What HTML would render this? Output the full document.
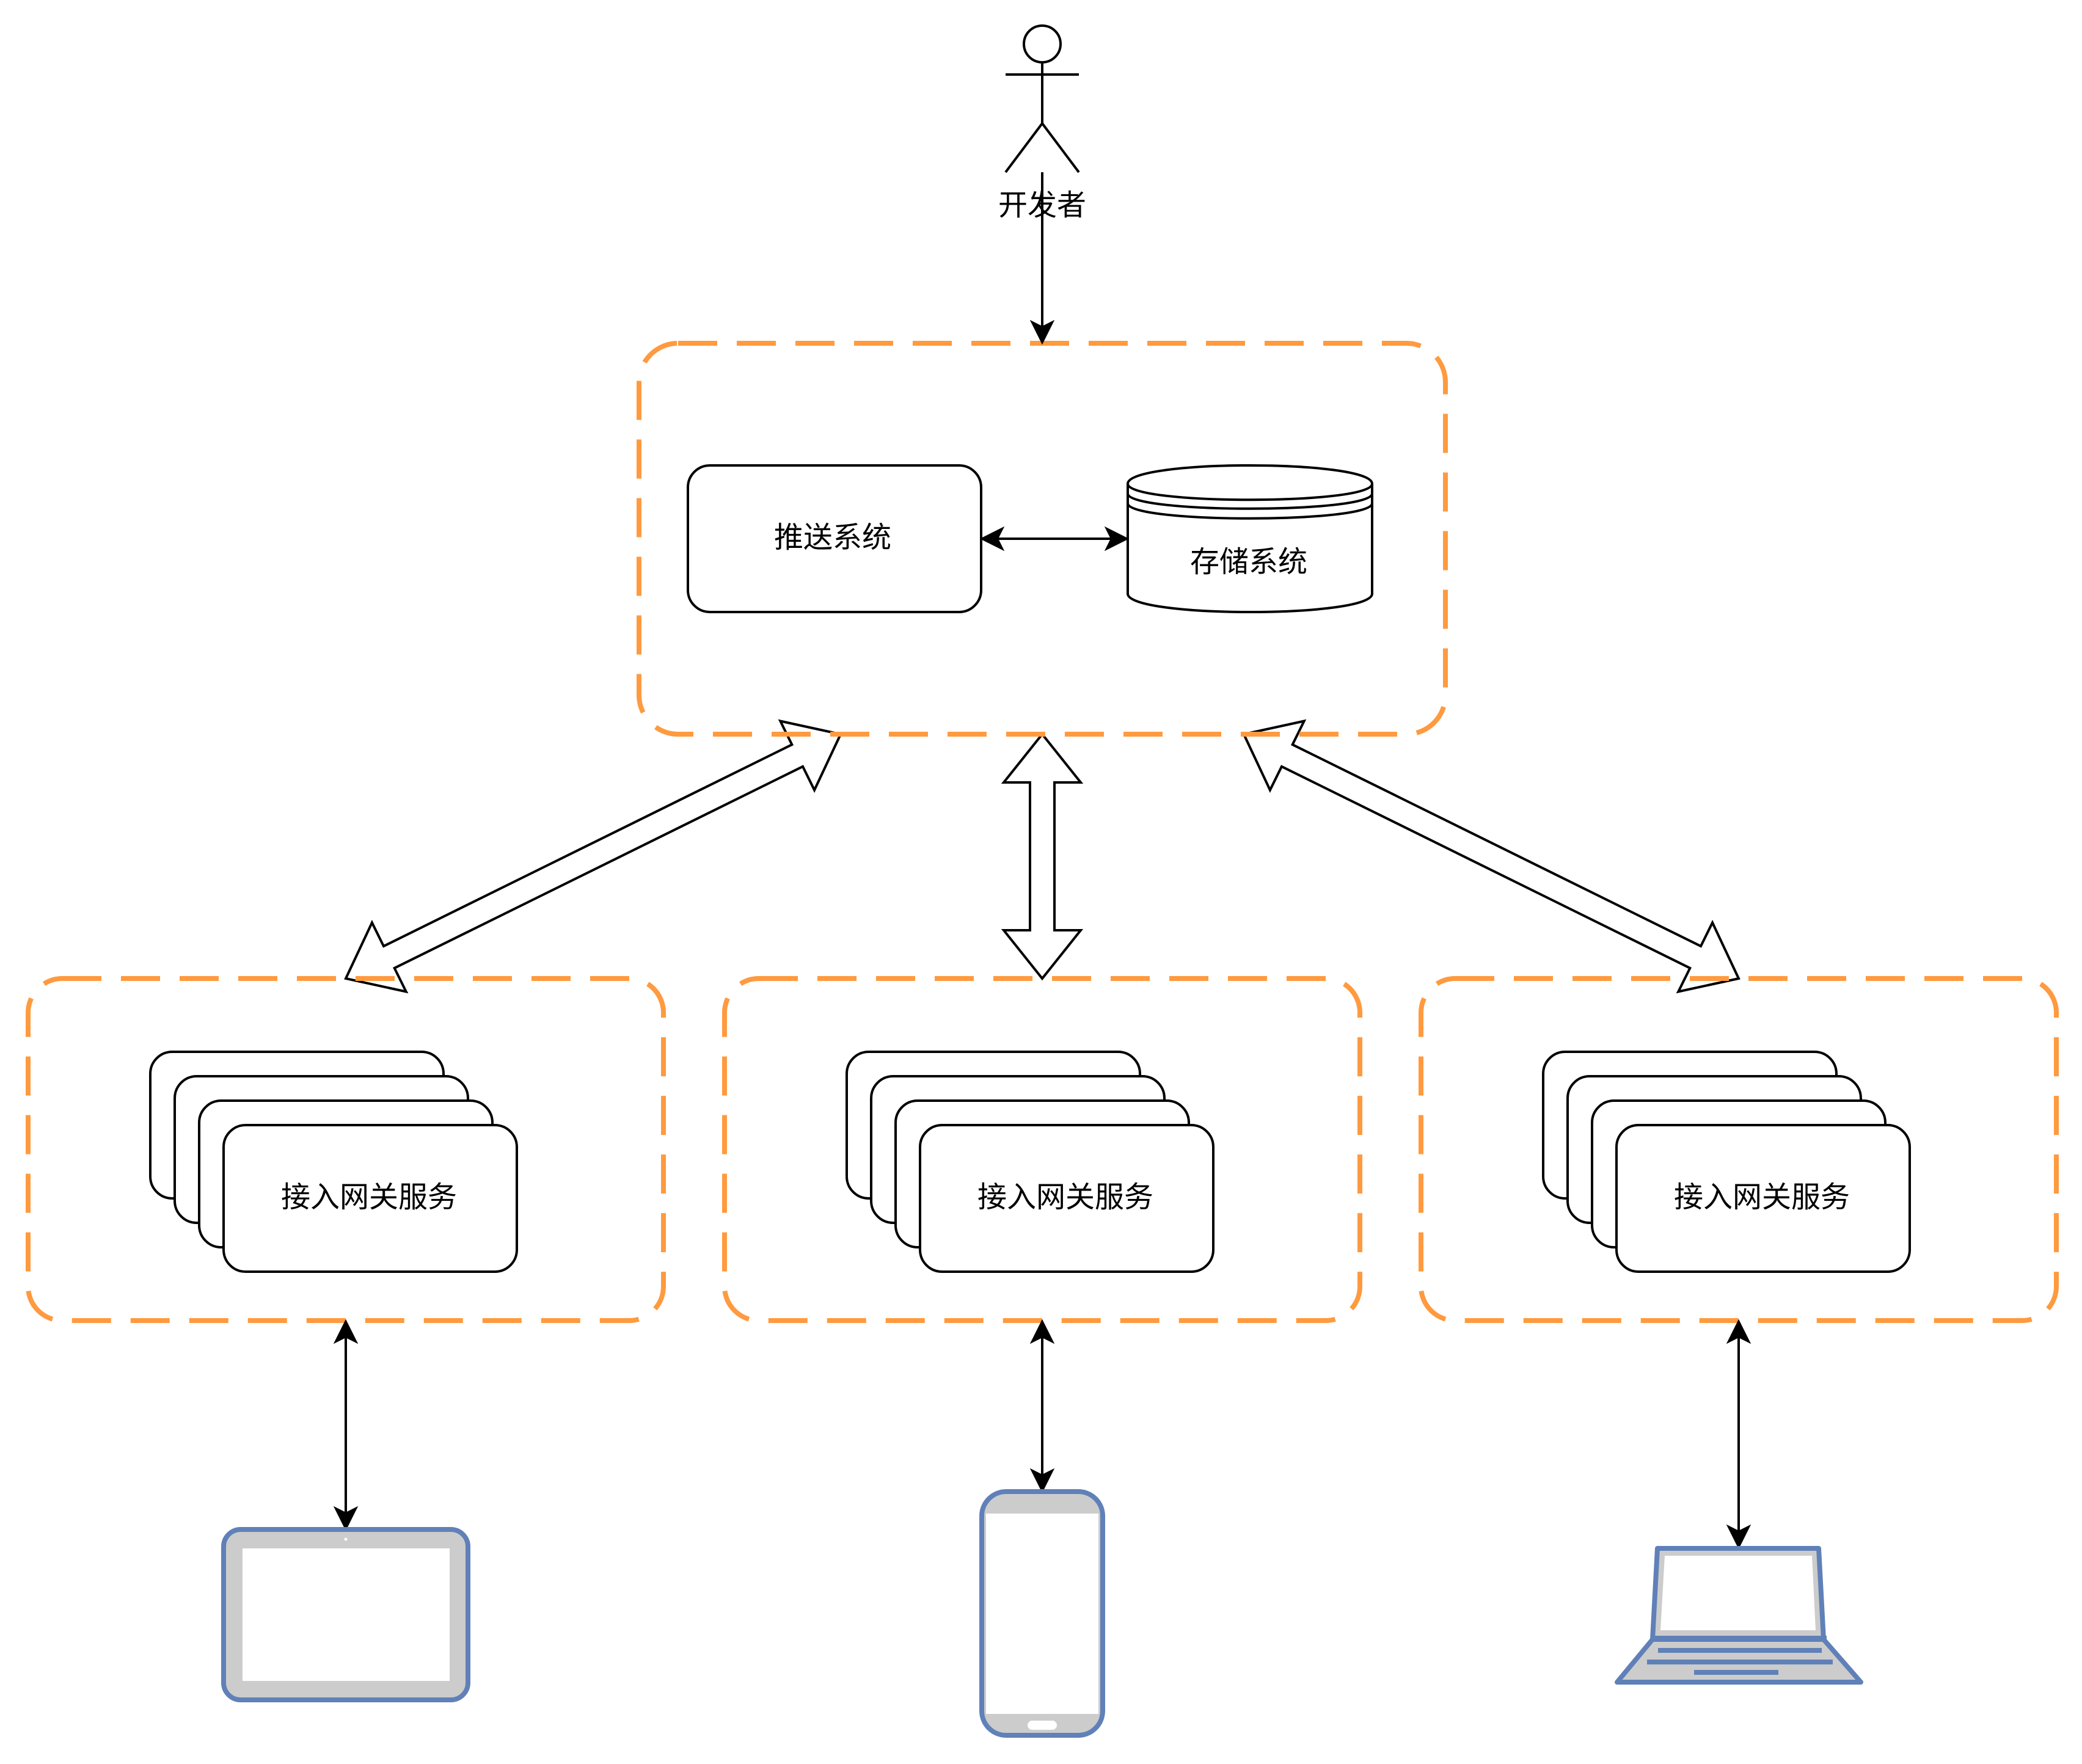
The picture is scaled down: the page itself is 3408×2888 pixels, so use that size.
<!DOCTYPE html>
<html><head><meta charset="utf-8"><style>
html,body{margin:0;padding:0;background:#fff}
svg{display:block}
text{font-family:"Liberation Sans","Noto Sans CJK SC",sans-serif;font-size:48px;fill:#000;text-anchor:middle}
</style></head><body>
<svg xmlns="http://www.w3.org/2000/svg" width="3408" height="2888" viewBox="0 0 3408 2888">
<rect width="3408" height="2888" fill="#fff"/>
<!-- flex arrows -->
<g fill="#fff" stroke="#000" stroke-width="4" stroke-linejoin="miter">
<polygon transform="translate(566,1602) rotate(-26.28)" points="0,0 79,-63 79,-20 824.4,-20 824.4,-63 903.4,0 824.4,63 824.4,20 79,20 79,63"/>
<polygon transform="translate(2846,1602) rotate(-153.72)" points="0,0 79,-63 79,-20 824.4,-20 824.4,-63 903.4,0 824.4,63 824.4,20 79,20 79,63"/>
<polygon points="1706,1202 1769,1281 1726,1281 1726,1523 1769,1523 1706,1602 1643,1523 1686,1523 1686,1281 1643,1281"/>
</g>
<!-- dashed groups -->
<g fill="none" stroke="#ff9a3f" stroke-width="8" stroke-dasharray="64 32">
<path d="M1110,562 L2302,562 A64,64 0 0 1 2366,626 L2366,1138 A64,64 0 0 1 2302,1202 L1110,1202 A64,64 0 0 1 1046,1138 L1046,626 A64,64 0 0 1 1110,562 Z"/>
<path d="M102,1602 L1030,1602 A56,56 0 0 1 1086,1658 L1086,2106 A56,56 0 0 1 1030,2162 L102,2162 A56,56 0 0 1 46,2106 L46,1658 A56,56 0 0 1 102,1602 Z"/>
<path d="M1242,1602 L2170,1602 A56,56 0 0 1 2226,1658 L2226,2106 A56,56 0 0 1 2170,2162 L1242,2162 A56,56 0 0 1 1186,2106 L1186,1658 A56,56 0 0 1 1242,1602 Z"/>
<path d="M2382,1602 L3310,1602 A56,56 0 0 1 3366,1658 L3366,2106 A56,56 0 0 1 3310,2162 L2382,2162 A56,56 0 0 1 2326,2106 L2326,1658 A56,56 0 0 1 2382,1602 Z"/>
</g>
<!-- actor -->
<g fill="#fff" stroke="#000" stroke-width="4">
<circle cx="1706" cy="72" r="30"/>
<path fill="none" d="M1706,102 V202 M1646,122 H1766 M1646,282 L1706,202 L1766,282"/>
</g>
<text x="1706" y="352">开发者</text>
<path d="M1706,282 V535" stroke="#000" stroke-width="4" fill="none"/>
<polygon points="1706,562 1688,526 1706,535 1724,526" fill="#000" stroke="#000" stroke-width="2"/>
<!-- push system -->
<rect x="1126" y="762" width="480" height="240" rx="36" ry="36" fill="#fff" stroke="#000" stroke-width="4"/>
<text x="1363" y="896">推送系统</text>
<!-- store -->
<g fill="#fff" stroke="#000" stroke-width="4">
<path d="M1846,792 C1846,752 2246,752 2246,792 L2246,972 C2246,1012 1846,1012 1846,972 Z"/>
<path fill="none" d="M1846,792 C1846,827 2246,827 2246,792 M1846,808 C1846,841 2246,841 2246,808 M1846,824 C1846,857 2246,857 2246,824"/>
</g>
<text x="2044" y="936">存储系统</text>
<path d="M1633,882 H1819" stroke="#000" stroke-width="4"/>
<polygon points="1606,882 1642,864 1633,882 1642,900" fill="#000" stroke="#000" stroke-width="2"/>
<polygon points="1846,882 1810,864 1819,882 1810,900" fill="#000" stroke="#000" stroke-width="2"/>
<!-- stacks -->
<g fill="#fff" stroke="#000" stroke-width="4">
<rect x="246" y="1722" width="480" height="240" rx="36"/><rect x="286" y="1762" width="480" height="240" rx="36"/><rect x="326" y="1802" width="480" height="240" rx="36"/><rect x="366" y="1842" width="480" height="240" rx="36"/>
<rect x="1386" y="1722" width="480" height="240" rx="36"/><rect x="1426" y="1762" width="480" height="240" rx="36"/><rect x="1466" y="1802" width="480" height="240" rx="36"/><rect x="1506" y="1842" width="480" height="240" rx="36"/>
<rect x="2526" y="1722" width="480" height="240" rx="36"/><rect x="2566" y="1762" width="480" height="240" rx="36"/><rect x="2606" y="1802" width="480" height="240" rx="36"/><rect x="2646" y="1842" width="480" height="240" rx="36"/>
</g>
<text x="604" y="1976">接入网关服务</text>
<text x="1744" y="1976">接入网关服务</text>
<text x="2884" y="1976">接入网关服务</text>
<!-- vertical links -->
<g stroke="#000" stroke-width="4">
<path d="M566,2189 V2477"/><path d="M1706,2189 V2415"/><path d="M2846,2189 V2507"/>
</g>
<g fill="#000" stroke="#000" stroke-width="2">
<polygon points="566,2162 548,2198 566,2189 584,2198"/>
<polygon points="566,2504 548,2468 566,2477 584,2468"/>
<polygon points="1706,2162 1688,2198 1706,2189 1724,2198"/>
<polygon points="1706,2442 1688,2406 1706,2415 1724,2406"/>
<polygon points="2846,2162 2828,2198 2846,2189 2864,2198"/>
<polygon points="2846,2534 2828,2498 2846,2507 2864,2498"/>
</g>
<!-- tablet -->
<rect x="366" y="2504" width="400" height="279" rx="28" fill="#ccc" stroke="#6080b8" stroke-width="8"/>
<rect x="397" y="2535" width="339" height="217" fill="#fff"/>
<circle cx="566" cy="2520" r="2.5" fill="#fff"/>
<!-- phone -->
<rect x="1607" y="2442" width="198" height="399" rx="40" fill="#ccc" stroke="#6080b8" stroke-width="8"/>
<rect x="1614" y="2478" width="184" height="328" fill="#fff"/>
<rect x="1682" y="2817" width="48" height="15" rx="7.5" fill="#fff"/>
<!-- laptop -->
<g stroke="#6080b8" stroke-linejoin="round">
<polygon points="2713,2535 2977,2535 2985,2684 2705,2684" fill="#ccc" stroke-width="8"/>
<polygon points="2705,2684 2985,2684 3046,2754 2647,2754" fill="#ccc" stroke-width="8"/>
</g>
<polygon points="2725,2547 2966,2547 2972,2669 2718,2669" fill="#fff"/>
<g fill="#6080b8">
<rect x="2702" y="2678" width="288" height="9"/>
<rect x="2714" y="2698" width="268" height="8"/>
<rect x="2696" y="2717" width="304" height="8"/>
<rect x="2773" y="2734" width="138" height="8"/>
</g>
</svg>
</body></html>
